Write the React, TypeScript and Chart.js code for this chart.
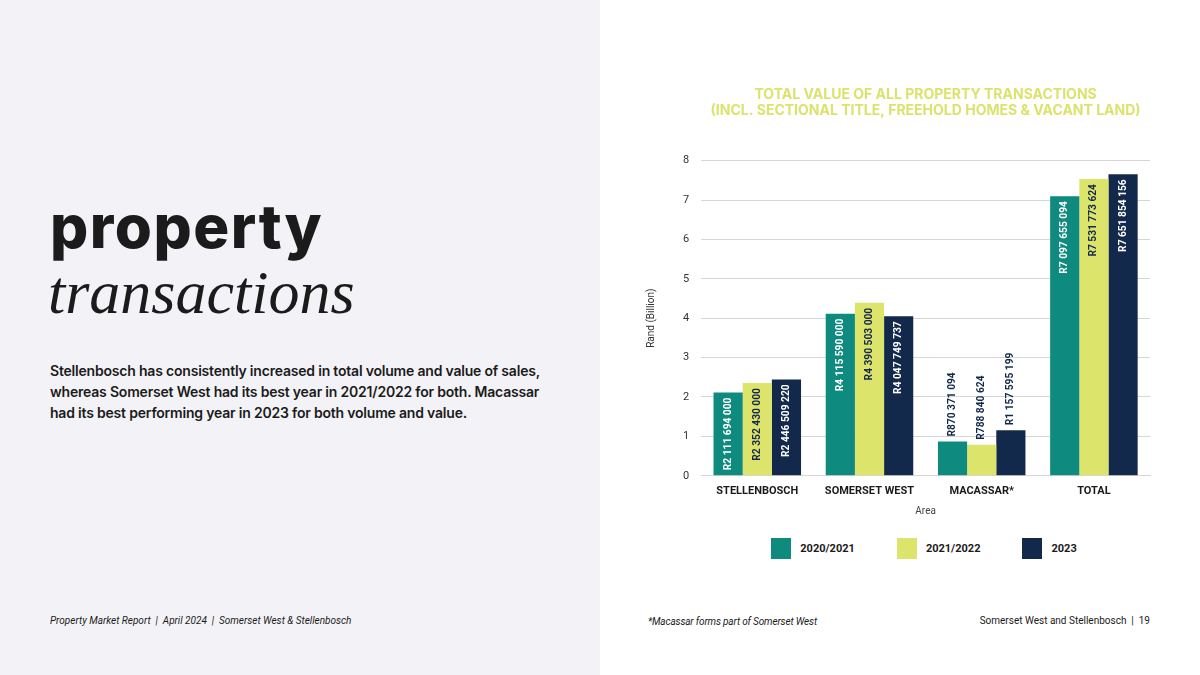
import React, { useEffect, useRef } from "react";
import { Chart, registerables } from "chart.js";

Chart.register(...registerables);

const categories = ["STELLENBOSCH", "SOMERSET WEST", "MACASSAR*", "TOTAL"];
const seriesNames = ["2020/2021", "2021/2022", "2023"];
const values2020 = [2111694000, 4115590000, 870371094, 7097655094];
const values2021 = [2352430000, 4390503000, 788840624, 7531773624];
const values2023 = [2446509220, 4047749737, 1157595199, 7651854156];
const yTicks = [0, 1, 2, 3, 4, 5, 6, 7, 8];
const titleLines = [
  "TOTAL VALUE OF ALL PROPERTY TRANSACTIONS",
  "(INCL. SECTIONAL TITLE, FREEHOLD HOMES & VACANT LAND)",
];

const rawSeries = [values2020, values2021, values2023];
const barColors = ["#0e8a7e", "#dde46b", "#13294b"];
const insideLabelColors = ["#ffffff", "#13294b", "#ffffff"];
const NAVY = "#13294b";

const fmtRand = (n: number) =>
  "R" + String(n).replace(/\B(?=(\d{3})+(?!\d))/g, " ");

const barLabelPlugin = {
  id: "barLabels",
  afterDatasetsDraw(chart: any) {
    const ctx = chart.ctx;
    chart.data.datasets.forEach((_ds: any, di: number) => {
      const meta = chart.getDatasetMeta(di);
      meta.data.forEach((bar: any, i: number) => {
        const text = fmtRand(rawSeries[di][i]);
        const { x, y, base } = bar.getProps(["x", "y", "base"], true);
        ctx.save();
        ctx.font = "bold 10.2px Roboto";
        const w = ctx.measureText(text).width;
        const h = base - y;
        ctx.translate(x, y);
        ctx.rotate(-Math.PI / 2);
        ctx.textBaseline = "middle";
        if (h > w + 6) {
          ctx.textAlign = "right";
          ctx.fillStyle = insideLabelColors[di];
          ctx.fillText(text, -5, 0);
        } else {
          ctx.textAlign = "left";
          ctx.fillStyle = NAVY;
          ctx.fillText(text, 5, 0);
        }
        ctx.restore();
      });
    });
  },
};

function BarChart() {
  const ref = useRef<HTMLCanvasElement | null>(null);
  useEffect(() => {
    if (!ref.current) return;
    const chart = new Chart(ref.current, {
      type: "bar",
      data: {
        labels: categories,
        datasets: rawSeries.map((vals, i) => ({
          label: seriesNames[i],
          data: vals.map((v) => v / 1e9),
          backgroundColor: barColors[i],
          borderWidth: 0,
          barPercentage: 1,
          categoryPercentage: 0.78,
        })),
      },
      options: {
        animation: false,
        responsive: false,
        layout: { padding: { top: 86, right: 50, bottom: 13, left: 0 } },
        plugins: {
          legend: { display: false },
          tooltip: { enabled: false },
          title: {
            display: true,
            text: titleLines,
            color: "#dbe36c",
            fullSize: false,
            font: { family: "Inter", size: 14, weight: "bold", lineHeight: 1.2 },
            padding: { top: 0, bottom: 41 },
          },
        },
        scales: {
          x: {
            grid: { display: false, drawTicks: false },
            border: { display: true, color: "#d6d6d6" },
            ticks: {
              color: "#1a1a1a",
              padding: 9,
              font: { family: "Roboto", size: 11, weight: "bold" },
            },
            title: {
              display: true,
              text: "Area",
              color: "#444444",
              font: { family: "Roboto", size: 10 },
              padding: { top: -2, bottom: 0 },
            },
          },
          y: {
            min: 0,
            max: 8,
            afterBuildTicks: (scale: any) => {
              scale.ticks = yTicks.map((v) => ({ value: v }));
            },
            grid: { color: "#d6d6d6", drawTicks: false },
            border: { display: false },
            ticks: {
              color: "#333333",
              padding: 12,
              font: { family: "Roboto", size: 11 },
            },
            title: {
              display: true,
              text: "Rand (Billion)",
              color: "#333333",
              font: { family: "Roboto", size: 10 },
              padding: { top: 0, bottom: 14 },
            },
          },
        },
      },
      plugins: [barLabelPlugin],
    });
    return () => chart.destroy();
  }, []);
  return <canvas ref={ref} width={555} height={530} />;
}

export default function App() {
  const textColor = "#1b1b1b";
  return (
    <div
      style={{
        position: "absolute",
        left: 0,
        top: 0,
        width: 1200,
        height: 675,
        overflow: "hidden",
        background: "#ffffff",
        fontFamily: "Inter, sans-serif",
        color: textColor,
      }}
    >
      <div
        style={{
          position: "absolute",
          left: 0,
          top: 0,
          width: 600,
          height: 675,
          background: "#f3f3f7",
        }}
      />
      <div
        style={{
          position: "absolute",
          left: 50,
          top: 196,
          fontFamily: "Inter",
          fontWeight: 800,
          fontSize: 60,
          lineHeight: "60px",
          letterSpacing: 1.5,
          whiteSpace: "nowrap",
        }}
      >
        property
      </div>
      <div
        style={{
          position: "absolute",
          left: 48,
          top: 261,
          fontFamily: "'Liberation Serif', serif",
          fontStyle: "italic",
          fontSize: 62,
          lineHeight: "62px",
          whiteSpace: "nowrap",
        }}
      >
        transactions
      </div>
      <div
        style={{
          position: "absolute",
          left: 50,
          top: 360,
          fontFamily: "Inter",
          fontWeight: 600,
          fontSize: 14,
          lineHeight: "21px",
          letterSpacing: -0.2,
          whiteSpace: "nowrap",
        }}
      >
        Stellenbosch has consistently increased in total volume and value of sales,
        <br />
        whereas Somerset West had its best year in 2021/2022 for both. Macassar
        <br />
        had its best performing year in 2023 for both volume and value.
      </div>
      <div
        style={{
          position: "absolute",
          left: 50,
          top: 614,
          fontFamily: "Roboto",
          fontStyle: "italic",
          fontSize: 10,
          lineHeight: "14px",
          whiteSpace: "nowrap",
        }}
      >
        Property Market Report&nbsp;&nbsp;|&nbsp;&nbsp;April 2024&nbsp;&nbsp;|&nbsp;&nbsp;Somerset West &amp; Stellenbosch
      </div>
      <div
        style={{
          position: "absolute",
          left: 648,
          top: 615,
          fontFamily: "Roboto",
          fontStyle: "italic",
          fontSize: 10,
          lineHeight: "14px",
          letterSpacing: -0.15,
          whiteSpace: "nowrap",
        }}
      >
        *Macassar forms part of Somerset West
      </div>
      <div
        style={{
          position: "absolute",
          right: 50,
          top: 614,
          fontFamily: "Roboto",
          fontSize: 10,
          lineHeight: "14px",
          whiteSpace: "nowrap",
        }}
      >
        Somerset West and Stellenbosch&nbsp;&nbsp;|&nbsp;&nbsp;19
      </div>
      <div style={{ position: "absolute", left: 645, top: 0 }}>
        <BarChart />
      </div>
      <div
        style={{
          position: "absolute",
          left: 624,
          width: 600,
          top: 538,
          display: "flex",
          justifyContent: "center",
          gap: 42,
          fontFamily: "Roboto",
          fontWeight: 700,
          fontSize: 11,
          color: "#1a1a1a",
        }}
      >
        {seriesNames.map((name, i) => (
          <div key={name} style={{ display: "flex", alignItems: "center", gap: 9 }}>
            <div style={{ width: 20, height: 21, background: barColors[i] }} />
            <span>{name}</span>
          </div>
        ))}
      </div>
    </div>
  );
}
